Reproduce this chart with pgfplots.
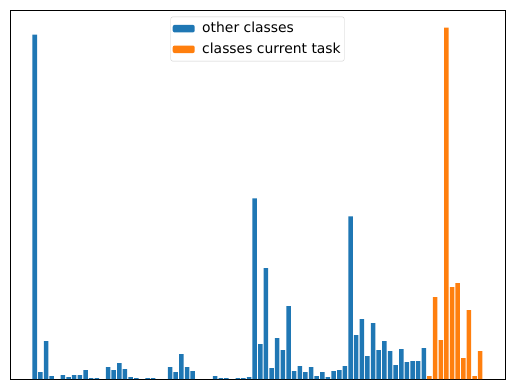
\documentclass[border=0pt]{standalone}
\usepackage{pgfplots}
\pgfplotsset{compat=1.18}
\usepackage{fontspec}
\setmainfont{DejaVu Sans}
\definecolor{mplblue}{HTML}{1F77B4}
\definecolor{mplorange}{HTML}{FF7F0E}
\begin{document}
\fontsize{13.9}{16}\selectfont
\begin{tikzpicture}[font=\fontsize{13.9}{16}\selectfont]
\begin{axis}[
  scale only axis, width=495pt, height=369pt,
  xmin=-4.39, xmax=83.39, ymin=0, ymax=369.6,
  xtick=\empty, ytick=\empty,
  axis line style={line width=0.8pt},
  ybar, bar width=0.8, bar shift=0pt,
  legend style={at={(0.5,0.982)}, anchor=north,
    font=\fontsize{13.9}{16}\selectfont,
    nodes={inner sep=1.5pt},
    draw=black!20, rounded corners=2pt,
    inner xsep=2pt, inner ysep=4pt, row sep=5pt, column sep=6pt},
  legend cell align=left,
  legend image code/.code={
    \fill[#1] (0pt,-3.8pt) rectangle (22pt,3.8pt);},
]
% other classes
\addplot[fill=mplblue, draw=none] coordinates {
  (0,345) (1,7) (2,38) (3,3) (5,4) (6,2) (7,4) (8,4) (9,9) (10,1) (11,1)
  (13,12) (14,9) (15,16) (16,10) (17,2) (18,1) (20,1) (21,1)
  (24,12) (25,7) (26,25) (27,12) (28,8) (32,3) (33,1) (34,1) (36,1) (37,1)
  (38,2) (39,181) (40,35) (41,111) (42,11) (43,41) (44,29) (45,73) (46,8)
  (47,13) (48,7) (49,12) (50,3) (51,7) (52,2) (53,8) (54,9) (55,13) (56,163)
  (57,44) (58,60) (59,23) (60,56) (61,29) (62,38) (63,28) (64,14) (65,30)
  (66,17) (67,18) (68,18) (69,31)
};
% classes of the current task
\addplot[fill=mplorange, draw=none] coordinates {
  (70,3) (71,82) (72,39) (73,352) (74,92) (75,96) (76,21) (77,69) (78,3) (79,28)
};
\legend{other classes, classes current task}
\end{axis}
\pgfresetboundingbox
\path (-10pt,-10pt) rectangle (505pt,379pt);
\end{tikzpicture}
\end{document}
